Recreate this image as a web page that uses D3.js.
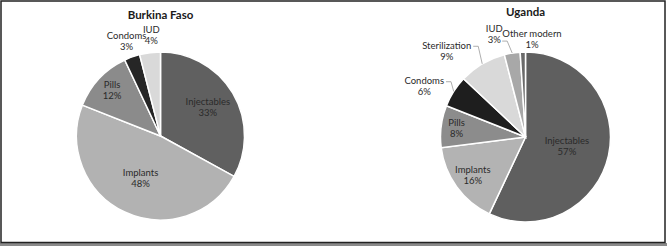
<!DOCTYPE html>
<html>
<head>
<meta charset="utf-8">
<script src="https://cdn.jsdelivr.net/npm/d3@7"></script>
<style>
  body { margin: 0; background: #fff; }
  svg { display: block; font-family: Lato, "Open Sans", sans-serif; }
</style>
</head>
<body>
<div id="chart"></div>
<script>
// Data
const burkinaMethods = ["Injectables", "Implants", "Pills", "Condoms", "IUD"]
const burkinaShares = [33, 48, 12, 3, 4]
const ugandaMethods = ["Injectables", "Implants", "Pills", "Condoms", "Sterilization", "IUD", "Other modern"]
const ugandaShares = [57, 16, 8, 6, 9, 3, 1]

// Colors per method (excel grayscale)
const burkinaColors = ["#606060", "#b2b2b2", "#8b8b8b", "#262626", "#d9d9d9"]
const ugandaColors = ["#5f5f5f", "#b3b3b3", "#8c8c8c", "#1e1e1e", "#d9d9d9", "#a8a8a8", "#6a6a6a"]

const width = 667
const height = 246

const svg = d3.select("#chart")
    .append("svg")
    .attr("width", width)
    .attr("height", height)

// frame
svg.append("rect")
    .attr("x", 0).attr("y", 243).attr("width", width).attr("height", 3)
    .attr("fill", "#8a8a8a")
svg.append("rect")
    .attr("x", 1).attr("y", 1).attr("width", 664).attr("height", 241.5)
    .attr("fill", "none").attr("stroke", "#222").attr("stroke-width", 1.5)

// outside label tweaks: [angle shift in deg, radius factor]
const outsideAdjust = {
    burkina: {"Condoms": [0, 1.19], "IUD": [2, 1.2]},
    uganda: {"Condoms": [-6, 1.33], "Sterilization": [-12, 1.37], "IUD": [-8, 1.26], "Other modern": [5.6, 1.15]}
}

function drawPie(cfg) {
    const g = svg.append("g")
        .attr("transform", `translate(${cfg.cx}, ${cfg.cy})`)
    const r = cfg.r

    const items = cfg.methods.map((m, i) => ({method: m, value: cfg.shares[i], color: cfg.colors[i]}))
    const pie = d3.pie().sort(null).value(d => d.value)
    const arcs = pie(items)
    const arc = d3.arc().innerRadius(0).outerRadius(r)

    g.selectAll("path.slice")
        .data(arcs)
        .enter()
        .append("path")
        .attr("class", "slice")
        .attr("d", arc)
        .attr("fill", d => d.data.color)
        .attr("stroke", "#fff")
        .attr("stroke-width", 1.5)

    // title
    svg.append("text")
        .attr("x", cfg.cx)
        .attr("y", cfg.titleY)
        .attr("text-anchor", "middle")
        .attr("font-weight", "bold")
        .attr("font-size", "11.5px")
        .attr("fill", "#1a1a1a")
        .text(cfg.title)

    const adj = outsideAdjust[cfg.key]
    const lineH = 11

    arcs.forEach(d => {
        const mid = (d.startAngle + d.endAngle) / 2
        let a = mid, k
        const outside = adj[d.data.method]
        if (outside) {
            a = mid + outside[0] * Math.PI / 180
            k = outside[1]
        } else {
            k = 0.87 - 0.0065 * d.data.value
        }
        const x = Math.sin(a) * r * k
        const y = -Math.cos(a) * r * k

        const t = g.append("text")
            .attr("text-anchor", "middle")
            .attr("font-size", "9.5px")
            .attr("fill", "#2a2a2a")
        t.append("tspan").attr("x", x).attr("y", y - lineH / 2 + 3).text(d.data.method)
        t.append("tspan").attr("x", x).attr("y", y + lineH / 2 + 3).text(d.data.value + "%")

        // leader line for labels pushed far out
        if (outside && k > 1.2) {
            const ex = Math.sin(mid) * r
            const ey = -Math.cos(mid) * r
            const side = x < ex ? 1 : -1
            let sx, sy
            if (d.data.method === "IUD") {
                sx = x + side * 8; sy = y + lineH / 2 + 1
            } else {
                const fw = t.select("tspan").node().getComputedTextLength()
                sx = x + side * (fw / 2 + 2); sy = y - lineH / 2 + 0.5
            }
            g.append("path")
                .attr("d", d3.line()([[sx, sy], [sx + side * 5, sy], [ex, ey]]))
                .attr("fill", "none")
                .attr("stroke", "#999")
                .attr("stroke-width", 0.8)
        }
    })
}

drawPie({key: "burkina", title: "Burkina Faso", methods: burkinaMethods, shares: burkinaShares,
    colors: burkinaColors, cx: 160.5, cy: 136, r: 84, titleY: 19})
drawPie({key: "uganda", title: "Uganda", methods: ugandaMethods, shares: ugandaShares,
    colors: ugandaColors, cx: 525.5, cy: 137, r: 85, titleY: 15.5})
</script>
</body>
</html>
